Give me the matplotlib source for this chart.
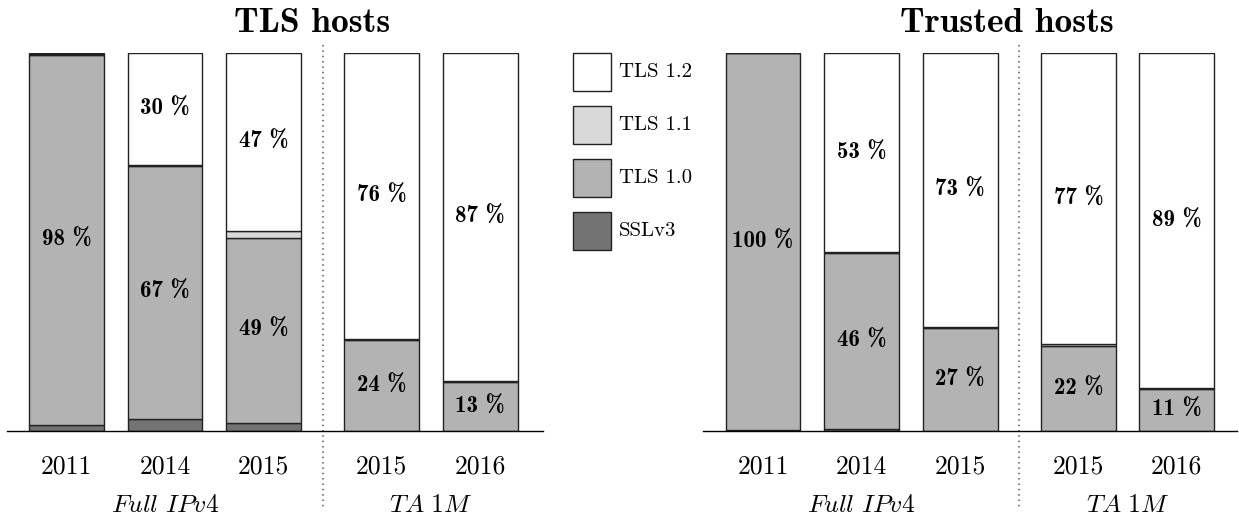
import numpy as np
import matplotlib
matplotlib.use('Agg')
import matplotlib.pyplot as plt
from matplotlib.patches import Rectangle
import matplotlib.transforms as mtransforms

plt.rcParams['axes.unicode_minus'] = False
plt.rcParams['mathtext.fontset'] = 'cm'

# данные
years = ['2011', '2014', '2015', '2015', '2016']
groups = [r'$\mathit{Full\ IPv}\mathrm{4}$', r'$\mathit{TA}\ \mathrm{1}\mathit{M}$']
series = ['TLS 1.2', 'TLS 1.1', 'TLS 1.0', 'SSLv3']

tls_ssl3 = [1.5, 3.2, 2.2, 0.0, 0.0]
tls_10 = [98.1, 67.0, 48.9, 24.0, 13.0]
tls_11 = [0.2, 0.3, 1.8, 0.3, 0.2]
tls_12 = [0.2, 29.5, 47.1, 75.7, 86.8]

trusted_ssl3 = [0.3, 0.6, 0.0, 0.0, 0.0]
trusted_10 = [99.7, 46.4, 27.2, 22.4, 11.2]
trusted_11 = [0.0, 0.4, 0.2, 0.6, 0.2]
trusted_12 = [0.0, 52.6, 72.6, 77.0, 88.6]

colors = {'SSLv3': '#737373', 'TLS 1.0': '#b3b3b3', 'TLS 1.1': '#d9d9d9', 'TLS 1.2': '#ffffff'}

W, H = 1239, 521
xpos = np.array([0, 1, 2, 3.2, 4.2])
bw = 0.76

fig = plt.figure(figsize=(W / 100, H / 100), dpi=100)
ax1 = fig.add_axes([7 / W, 1 - 431 / H, 536 / W, 378 / H])
ax2 = fig.add_axes([703 / W, 1 - 431 / H, 534 / W, 378 / H])


def draw(ax, ssl3, t10, t11, t12, xlim):
    bottom = np.zeros(len(xpos))
    for name, vals in [('SSLv3', ssl3), ('TLS 1.0', t10), ('TLS 1.1', t11), ('TLS 1.2', t12)]:
        vals = np.array(vals)
        ax.bar(xpos, vals, bottom=bottom, width=bw, color=colors[name],
               edgecolor='#222222', linewidth=1.0)
        if name in ('TLS 1.0', 'TLS 1.2'):
            for x, b, v in zip(xpos, bottom, vals):
                if v >= 5:
                    ax.text(x, b + v / 2, f'{round(v)} %', ha='center', va='center',
                            family='cmb10', fontsize=16.5)
        bottom = bottom + vals
    ax.set_xlim(*xlim)
    ax.set_ylim(0, 100)
    for s in ['top', 'right', 'left']:
        ax.spines[s].set_visible(False)
    ax.spines['bottom'].set_linewidth(1.0)
    ax.set_yticks([])
    ax.set_xticks(xpos, years, family='cmr10', fontsize=18.5)
    ax.tick_params(axis='x', length=0, pad=17)
    tr = mtransforms.blended_transform_factory(ax.transData, ax.transAxes)
    ax.plot([2.6, 2.6], [1.02, -0.205], transform=tr, ls=(0, (1, 2.5)), color='#555555',
            lw=1.1, clip_on=False)
    ax.text(1, -0.2135, groups[0], transform=tr, ha='center', va='baseline',
            fontsize=18.5)
    ax.text(3.7, -0.2135, groups[1], transform=tr, ha='center', va='baseline',
            fontsize=18.5)


draw(ax1, tls_ssl3, tls_10, tls_11, tls_12, (-0.604, 4.838))
draw(ax2, trusted_ssl3, trusted_10, trusted_11, trusted_12, (-0.609, 4.81))

fig.text(312 / W, 1 - 32 / H, 'TLS hosts', ha='center', va='baseline',
         family='cmb10', fontsize=25.5)
fig.text(1007 / W, 1 - 32 / H, 'Trusted hosts', ha='center', va='baseline',
         family='cmb10', fontsize=25.5)

# легенда вручную
for i, name in enumerate(series):
    top = 53 + i * 53
    fig.add_artist(Rectangle((573 / W, 1 - (top + 38) / H), 38 / W, 38 / H,
                             transform=fig.transFigure, facecolor=colors[name],
                             edgecolor='#222222', linewidth=1.0))
    fig.text(619 / W, 1 - (top + 19) / H, name, va='center', ha='left',
             family='cmr10', fontsize=15)

fig.savefig('out.png', dpi=100)
